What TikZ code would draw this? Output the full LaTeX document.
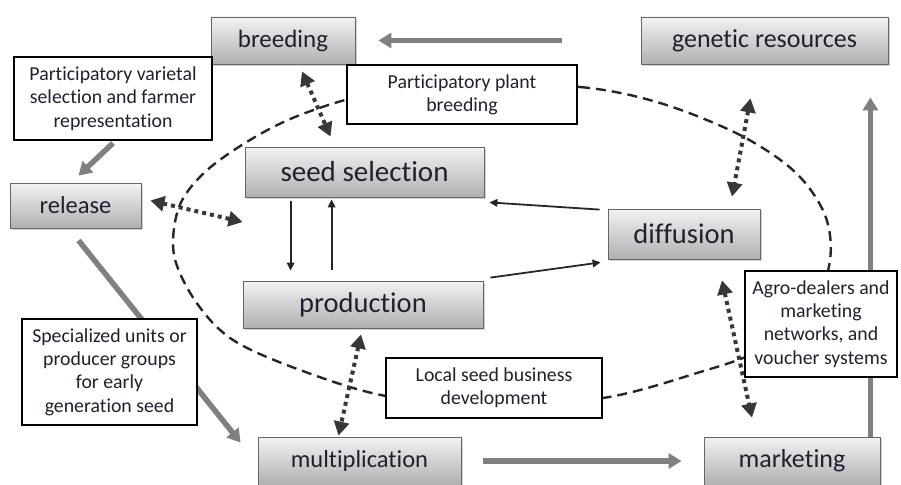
\documentclass[tikz,border=0pt]{standalone}
\usepackage{fontspec}
\setmainfont{Carlito}[Ligatures={CommonOff}]
\usetikzlibrary{arrows.meta,shadows,calc}
\definecolor{txt}{RGB}{30,34,48}
\definecolor{garrow}{RGB}{128,128,128}
\definecolor{dotc}{RGB}{55,55,55}
\tikzset{
  gbox/.style={draw=black!60, line width=0.8pt, top color=gray!10, bottom color=gray!62,
    drop shadow={shadow xshift=1.5pt, shadow yshift=-2pt, opacity=0.35},
    inner sep=0pt, text=txt, anchor=center},
  wbox/.style={draw=black, line width=2.2pt, fill=white, inner sep=0pt, text=txt,
    align=center, font=\fontsize{19.8}{23.3}\selectfont},
  garr/.style={draw=garrow, line width=5.5pt, -{Triangle[length=13pt,width=15pt]}},
  dotarr/.style={draw=dotc, line width=4pt, dash pattern=on 4pt off 4pt,
    {Triangle[length=14pt,width=15pt]}-{Triangle[length=14pt,width=15pt]}},
  barr/.style={draw=black!85, line width=1.8pt, -{Triangle[length=8pt,width=7.5pt]}},
  dashring/.style={draw=black!85, line width=2.4pt, dash pattern=on 10pt off 6pt}
}
\begin{document}
\begin{tikzpicture}[x=1pt,y=-1pt]
\useasboundingbox (0,0) rectangle (901,484);
% dashed ring
\draw[dashring] plot[smooth cycle, tension=0.55] coordinates {
 (460,84) (580,87) (660,103) (740,135) (795,172) (825,215) (830,260) (812,308)
 (760,350) (697,373) (603,398) (490,404) (386,396) (300,370) (233,340) (196,302)
 (174,255) (179,207) (205,172) (250,140) (300,115) (370,94)};
% gray boxes
\node[gbox, minimum width=144pt, minimum height=47pt, font=\fontsize{25}{28}\selectfont] (breeding) at (283,40.5) {breeding};
\node[gbox, minimum width=247pt, minimum height=47pt, font=\fontsize{26}{30}\selectfont] (genetic) at (764.5,40.5) {genetic resources};
\node[gbox, minimum width=239pt, minimum height=50pt, font=\fontsize{29}{32}\selectfont] (seedsel) at (364.5,172) {seed selection};
\node[gbox, minimum width=131pt, minimum height=45pt, font=\fontsize{24.5}{28}\selectfont] (release) at (75.5,205.5) {release};
\node[gbox, minimum width=152pt, minimum height=50pt, font=\fontsize{28.5}{32}\selectfont] (diffusion) at (684,234) {diffusion};
\node[gbox, minimum width=240pt, minimum height=47pt, font=\fontsize{28.5}{32}\selectfont] (production) at (363,304.5) {production};
\node[gbox, minimum width=203pt, minimum height=48pt, font=\fontsize{24.5}{28}\selectfont] (mult) at (359.5,461) {multiplication};
\node[gbox, minimum width=176pt, minimum height=48pt, font=\fontsize{26}{30}\selectfont] (marketing) at (792,461) {marketing};
% gray arrows
\draw[garr] ([xshift=-79pt]genetic.west) -- ([xshift=23pt]breeding.east);
\draw[garr] ([xshift=22pt]mult.east) -- ([xshift=-22pt]marketing.west);
\draw[garr] ([xshift=-10pt]marketing.north east) -- ([xshift=-18pt,yshift=-33pt]genetic.south east);
\draw[garr] ([xshift=3pt,yshift=-12pt]release.south) -- ([xshift=-17pt,yshift=-6pt]mult.north west);
% white annotation boxes
\node[wbox, minimum width=198pt, minimum height=83pt] (pvs) at (113,98.5) {Participatory varietal\\selection and farmer\\representation};
\node[wbox, minimum width=230pt, minimum height=59pt] (ppb) at (462,94.5) {Participatory plant\\breeding};
\node[wbox, minimum width=175pt, minimum height=106pt] (spec) at (109.5,372) {Specialized units or\\producer groups\\for early\\generation seed};
\node[wbox, minimum width=216pt, minimum height=60pt] (local) at (494,388) {Local seed business\\development};
\node[wbox, minimum width=152pt, minimum height=106pt] (agro) at (821,324) {Agro-dealers and\\marketing\\networks, and\\voucher systems};
\draw[garr] ([yshift=-2pt]pvs.south) -- ([xshift=3pt,yshift=7pt]release.north);
% black arrows
\draw[barr] ([xshift=46pt,yshift=-4pt]seedsel.south west) -- ([xshift=48pt,yshift=10pt]production.north west);
\draw[barr] ([xshift=89pt,yshift=11pt]production.north west) -- ([xshift=87pt,yshift=-2pt]seedsel.south west);
\draw[barr] ([xshift=-8pt,yshift=-1pt]diffusion.north west) -- ([xshift=5pt,yshift=-5pt]seedsel.south east);
\draw[barr] ([xshift=7pt,yshift=3pt]production.north east) -- ([xshift=-7pt,yshift=-3pt]diffusion.south west);
% dotted double arrows
\draw[dotarr] ([xshift=19pt,yshift=-7pt]breeding.south) -- ([xshift=-34pt,yshift=10pt]seedsel.north);
\draw[dotarr] ([xshift=9pt,yshift=5pt]release.east) -- ([xshift=-2pt,yshift=-50pt]seedsel.west);
\draw[dotarr] ([xshift=-14pt,yshift=-34pt]genetic.south) -- ([xshift=48pt,yshift=12pt]diffusion.north);
\draw[dotarr] ([xshift=-2pt,yshift=-6pt]production.south) -- ([xshift=-21pt,yshift=1pt]mult.north);
\draw[dotarr] ([xshift=38pt,yshift=-21pt]diffusion.south) -- ([xshift=-40pt,yshift=19pt]marketing.north);
\end{tikzpicture}
\end{document}
